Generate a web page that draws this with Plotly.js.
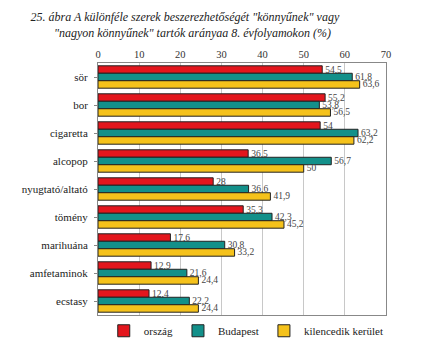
<!DOCTYPE html>
<html><head><meta charset="utf-8">
<script src="https://cdn.plot.ly/plotly-3.0.1.min.js"></script>
<style>body{margin:0;background:#fff}#c{width:430px;height:357px}</style>
</head><body><div id="c"></div>
<script>
const categories = ["sör","bor","cigaretta","alcopop","nyugtató/altató","tömény","marihuána","amfetaminok","ecstasy"];
const orszag = [54.5,55.2,54,36.5,28,35.3,17.6,12.9,12.4];
const budapest = [61.8,53.8,63.2,56.7,36.6,42.3,30.8,21.6,22.2];
const kilencedik = [63.6,56.5,62.2,50,41.9,45.2,33.2,24.4,24.4];
const seriesNames = ["ország","Budapest","kilencedik kerület"];
const colors = ["#e3161d","#13908a","#f5c21b"];
const fmt = v => String(v).replace('.', ',');
const data = [orszag,budapest,kilencedik].map((vals,i)=>({
  type:'bar', orientation:'h', y:categories, x:vals, name:seriesNames[i],
  marker:{color:colors[i], line:{color:'#222', width:1}},
  text:vals.map(fmt), textposition:'outside', cliponaxis:false, constraintext:'none',
  textfont:{family:'Liberation Serif, serif', size:9.5, color:'#444'}
}));
const layout = {
  width:430, height:357,
  margin:{l:98, r:44, t:63, b:33},
  paper_bgcolor:'#fff', plot_bgcolor:'#fff',
  barmode:'group', bargap:0.2, bargroupgap:0,
  title:{text:'<i>25. ábra A különféle szerek beszerezhetőségét "könnyűnek" vagy<br>     "nagyon könnyűnek" tartók arányaa 8. évfolyamokon (%)</i>',
    font:{family:'Liberation Serif, serif', size:12, color:'#222'}, x:0.43, xanchor:'center',
    yref:'container', y:0.94, yanchor:'middle'},
  xaxis:{side:'top', range:[0,70], dtick:10, showgrid:true, gridcolor:'#c8c8c8', gridwidth:1,
    showline:true, linecolor:'#888', mirror:true, ticks:'', zeroline:false,
    tickfont:{family:'Liberation Serif, serif', size:10.5, color:'#333'}},
  yaxis:{autorange:'reversed', showline:true, linecolor:'#888', mirror:true, ticks:'outside', ticklen:3, tickcolor:'#888',
    tickfont:{family:'Liberation Serif, serif', size:11, color:'#222'}, ticklabelstandoff:4},
  showlegend:true,
  legend:{orientation:'h', x:0.02, y:-0.005, xanchor:'left', yanchor:'top', traceorder:'normal',
    font:{family:'Liberation Serif, serif', size:11, color:'#222'}, itemwidth:30},
  separators:',.'
};
Plotly.newPlot('c', data, layout, {displayModeBar:false, staticPlot:true});
</script></body></html>
